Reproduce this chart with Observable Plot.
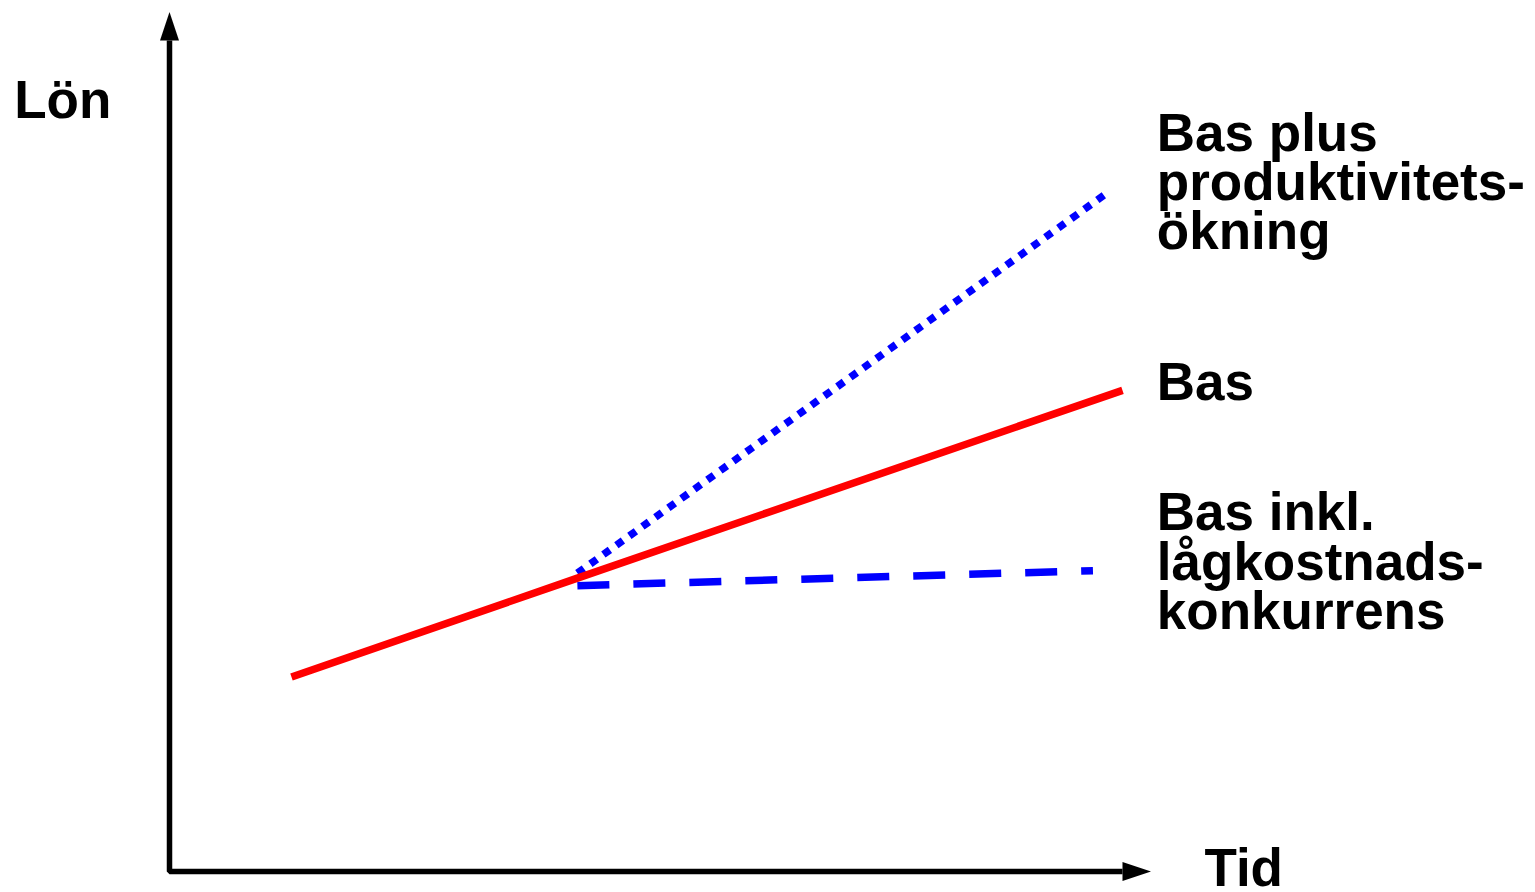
<!DOCTYPE html>
<html>
<head>
<meta charset="utf-8">
<script src="https://cdn.jsdelivr.net/npm/d3@7"></script>
<script src="https://cdn.jsdelivr.net/npm/@observablehq/plot@0.6"></script>
<style>
  html, body { margin: 0; padding: 0; background: #fff; }
  #chart svg { display: block; }
</style>
</head>
<body>
<div id="chart"></div>
<script>
// Series (abstract units: Tid 0..10, Lön 0..10)
const basTid = [1.28, 4.28, 10.0];
const basLon = [2.34, 3.53, 5.79];
const prodTid = [4.28, 9.82];
const prodLon = [3.59, 8.15];
const lagTid = [4.28, 9.69];
const lagLon = [3.44, 3.62];

// Axis frame
const axisTid = [0, 0, 10];
const axisLon = [10, 0, 0];

// Labels
const labelTexts = ["Bas plus\nproduktivitets-\nökning", "Bas", "Bas inkl.\nlågkostnads-\nkonkurrens"];
const labelTid = [10.36, 10.36, 10.36];
const labelLon = [7.49, 5.67, 2.92];
const axisTitles = ["Lön", "Tid"];
const axisTitleTid = [-1.63, 10.86];
const axisTitleLon = [9.07, -0.18];

const toRows = (xs, ys, extra = {}) => xs.map((x, i) => ({x, y: ys[i], ...Object.fromEntries(Object.entries(extra).map(([k, v]) => [k, v[i]]))}));

const bas = toRows(basTid, basLon);
const prod = toRows(prodTid, prodLon);
const lag = toRows(lagTid, lagLon);
const axisRows = toRows(axisTid, axisLon);
const labels = toRows(labelTid, labelLon, {text: labelTexts});
const titles = toRows(axisTitleTid, axisTitleLon, {text: axisTitles});

const arrowHead = {
  draw(context) {
    context.moveTo(-9.5, 0);
    context.lineTo(0, -28.5);
    context.lineTo(9.5, 0);
    context.closePath();
  }
};
const arrows = [
  {x: axisTid[0], y: axisLon[0], rot: 0},
  {x: axisTid[2], y: axisLon[2], rot: 90}
];

const font = "'Liberation Sans', Arial, Helvetica, sans-serif";

const chart = Plot.plot({
  width: 1535,
  height: 892,
  margin: 0,
  style: {background: "white", overflow: "visible"},
  x: {domain: [0, 10], range: [169, 1122], axis: null},
  y: {domain: [0, 10], range: [871, 40], axis: null},
  marks: [
    Plot.line(axisRows, {x: "x", y: "y", stroke: "black", strokeWidth: 5.5, strokeLinejoin: "miter", strokeLinecap: "butt"}),
    Plot.dot(arrows, {x: "x", y: "y", rotate: "rot", symbol: arrowHead, r: 10, fill: "black", stroke: "none"}),
    Plot.line(prod, {x: "x", y: "y", stroke: "#0000ff", strokeWidth: 7.5, strokeDasharray: "8,8", strokeLinecap: "butt"}),
    Plot.line(lag, {x: "x", y: "y", stroke: "#0000ff", strokeWidth: 7.5, strokeDasharray: "32,24", strokeLinecap: "butt"}),
    Plot.line(bas, {x: "x", y: "y", stroke: "#ff0000", strokeWidth: 7.5, strokeLinecap: "butt"}),
    Plot.text(labels, {x: "x", y: "y", text: "text", textAnchor: "start", lineAnchor: "bottom", lineHeight: 0.93,
      fontFamily: font, fontWeight: "bold", fontSize: 53, fill: "black"}),
    Plot.text(titles, {x: "x", y: "y", text: "text", textAnchor: "start", lineAnchor: "bottom",
      fontFamily: font, fontWeight: "bold", fontSize: 53, fill: "black"})
  ]
});
document.getElementById("chart").appendChild(chart);
</script>
</body>
</html>
